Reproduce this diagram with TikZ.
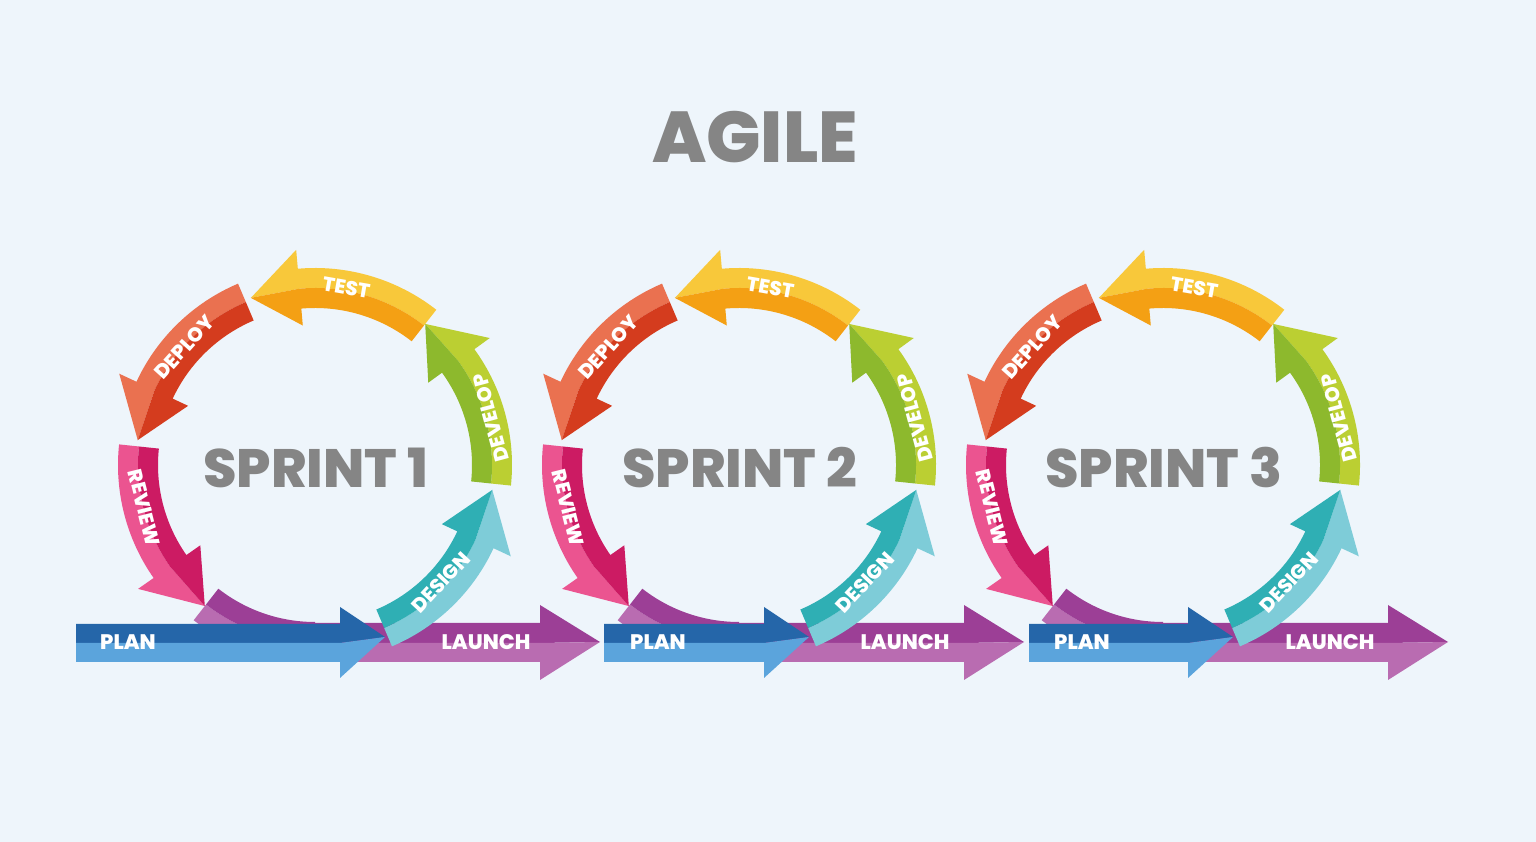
\documentclass[tikz,border=0pt]{standalone}
\usepackage{fontspec}
\setmainfont{Poppins}
\newfontfamily\heavyfont{Poppins ExtraBold}
\usetikzlibrary{positioning}

\definecolor{bgblue}{HTML}{EEF5FB}
\definecolor{titlegrey}{HTML}{858585}
\definecolor{testout}{HTML}{F8C83A}
\definecolor{testin}{HTML}{F4A014}
\definecolor{deployout}{HTML}{EA7150}
\definecolor{deployin}{HTML}{D43C1E}
\definecolor{reviewout}{HTML}{EB5490}
\definecolor{reviewin}{HTML}{CC1B63}
\definecolor{developout}{HTML}{BBCF32}
\definecolor{developin}{HTML}{8DB92D}
\definecolor{designout}{HTML}{7ECCD8}
\definecolor{designin}{HTML}{2FAFB4}
\definecolor{launchout}{HTML}{B96CB1}
\definecolor{launchin}{HTML}{9C3F96}
\definecolor{plantop}{HTML}{2566A9}
\definecolor{planbot}{HTML}{5BA4DC}

% curved two-tone arrow: tail angle, head angle, tip angle, outer colour, inner colour
\newcommand{\cyclearrow}[5]{%
  \fill[#4] (#1:177pt) -- (#1:197pt) arc[start angle=#1, end angle=#2, radius=197pt]
    -- (#2:216pt) -- (#3:179pt) -- (#2:177pt) arc[start angle=#2, end angle=#1, radius=177pt] -- cycle;
  \fill[#5] (#1:177pt) -- (#1:157pt) arc[start angle=#1, end angle=#2, radius=157pt]
    -- (#2:140pt) -- (#3:179pt) -- (#2:177pt) arc[start angle=#2, end angle=#1, radius=177pt] -- cycle;
}

\begin{document}
\begin{tikzpicture}[x=1pt,y=1pt,
    lbl/.style={text=white,inner sep=0pt,font=\fontsize{20}{20}\selectfont\heavyfont},
    barlbl/.style={text=white,inner sep=0pt,font=\fontsize{21}{21}\selectfont\heavyfont},
    sprintlbl/.style={text=titlegrey,inner sep=0pt,font=\fontsize{54}{54}\selectfont\heavyfont}]
    \fill[bgblue] (0,0) rectangle (1536,842);
    \useasboundingbox (0,0) rectangle (1536,842);

    \node[text=titlegrey,font=\fontsize{72}{72}\selectfont\heavyfont] (title) at (755,705) {AGILE};

    \foreach \cx/\n/\ps in {315/1/-239,739/2/-135,1163/3/-134}{
      \begin{scope}[shift={(\cx,377)}]
        % launch: bottom arc and bar
        \fill[launchout] (232:177pt) -- (232:197pt) arc[start angle=232, end angle=270, radius=197pt]
          -- (270:177pt) arc[start angle=270, end angle=232, radius=177pt] -- cycle;
        \fill[launchin] (232:177pt) -- (232:157pt) arc[start angle=232, end angle=270, radius=157pt]
          -- (270:177pt) arc[start angle=270, end angle=232, radius=177pt] -- cycle;
        \fill[launchin] (0,-158) -- (225,-158) -- (225,-140) -- (285,-177) -- (225,-178) -- (0,-178) -- cycle;
        \fill[launchout] (0,-178) -- (225,-178) -- (285,-177) -- (225,-215) -- (225,-197) -- (0,-197) -- cycle;

        \cyclearrow{52}{95}{111}{testout}{testin}
        \cyclearrow{113}{155}{172}{deployout}{deployin}
        \cyclearrow{174}{215}{232}{reviewout}{reviewin}
        \cyclearrow{-6}{36}{52}{developout}{developin}
        \cyclearrow{293}{335}{352}{designout}{designin}

        % plan bar
        \fill[plantop] (\ps,-159) -- (25,-159) -- (25,-142) -- (70,-172) -- (25,-178) -- (\ps,-178) -- cycle;
        \fill[planbot] (\ps,-178) -- (25,-178) -- (70,-172) -- (25,-213) -- (25,-197) -- (\ps,-197) -- cycle;

        \node[sprintlbl] (sprint\n) at (1,-3) {SPRINT \n};
        \node[lbl,rotate=-10] (test\n) at (80:180pt) {TEST};
        \node[lbl,rotate=48] (deploy\n) at (138:176pt) {DEPLOY};
        \node[lbl,rotate=-76] (review\n) at (194:176pt) {REVIEW};
        \node[lbl,rotate=105] (develop\n) at (15:182pt) {DEVELOP};
        \node[lbl,rotate=47] (design\n) at (317:172pt) {DESIGN};
      \end{scope}
    }

    \node[barlbl] (plan1) at (128,200) {PLAN};
    \node[barlbl] (launch1) at (486,200) {LAUNCH};
    \node[barlbl] (plan2) at (658,200) {PLAN};
    \node[barlbl] (launch2) at (905,200) {LAUNCH};
    \node[barlbl] (plan3) at (1082,200) {PLAN};
    \node[barlbl] (launch3) at (1330,200) {LAUNCH};
\end{tikzpicture}
\end{document}
